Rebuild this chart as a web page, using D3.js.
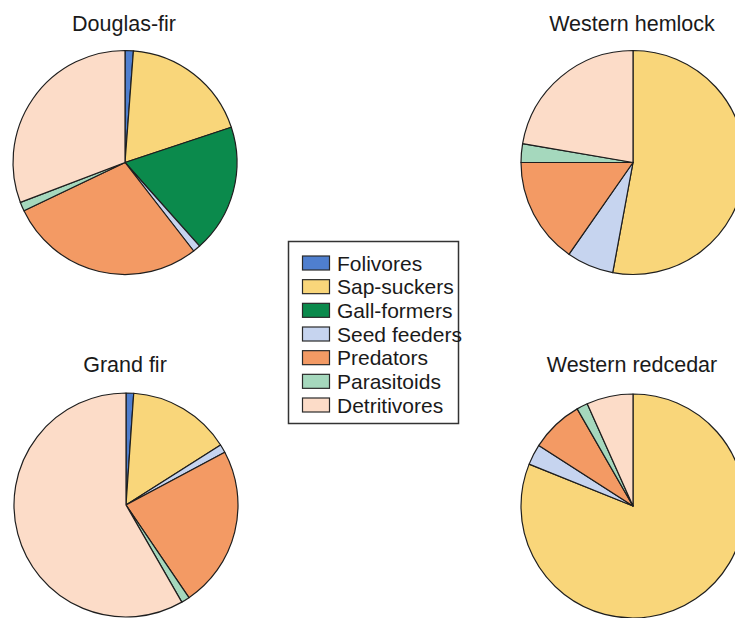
<!DOCTYPE html>
<html>
<head>
<meta charset="utf-8">
<script src="https://cdn.jsdelivr.net/npm/d3@7"></script>
<style>
  html, body { margin: 0; padding: 0; background: #fff; }
  svg { display: block; font-family: "Liberation Sans", Arial, sans-serif; }
</style>
</head>
<body>
<svg id="chart" width="735" height="618"></svg>
<script>
// ---- data (percent of individuals per feeding guild) ----
const categories = ["Folivores", "Sap-suckers", "Gall-formers", "Seed feeders", "Predators", "Parasitoids", "Detritivores"];
const colors = ["#4f7fcf", "#f9d67a", "#0b8a4c", "#c6d4ef", "#f39a64", "#a5d8bd", "#fcdcc8"];
const trees = ["Douglas-fir", "Western hemlock", "Grand fir", "Western redcedar"];
const douglasFir      = [1.2, 18.7, 18.5, 1.1, 28.4, 1.3, 30.8];
const westernHemlock  = [0, 52.9, 0, 6.8, 15.3, 2.7, 22.3];
const grandFir        = [1.1, 14.9, 0, 1.2, 23.3, 1.2, 58.3];
const westernRedcedar = [0, 81.1, 0, 3.0, 7.6, 1.6, 6.7];
const treeValues = [douglasFir, westernHemlock, grandFir, westernRedcedar];

// ---- layout ----
const svg = d3.select("#chart");
const R = 112;
const centers = [[125, 162.5], [633, 162.5], [126, 505], [633, 506]];
const titleY = [31, 31, 372, 372];

const color = d3.scaleOrdinal().domain(categories).range(colors);
const pie = d3.pie().sort(null).value(d => d.value);
const arc = d3.arc().innerRadius(0).outerRadius(R);

trees.forEach((name, i) => {
  const [cx, cy] = centers[i];
  const data = categories.map((c, j) => ({ cat: c, value: treeValues[i][j] }));
  const g = svg.append("g").attr("transform", `translate(${cx},${cy})`);
  g.selectAll("path")
    .data(pie(data).filter(d => d.data.value > 0))
    .join("path")
    .attr("d", arc)
    .attr("fill", d => color(d.data.cat))
    .attr("stroke", "#1e1e1e")
    .attr("stroke-width", 1.2)
    .attr("stroke-linejoin", "round");
  svg.append("text")
    .attr("x", cx - 1)
    .attr("y", titleY[i])
    .attr("text-anchor", "middle")
    .attr("font-size", 21.5)
    .attr("fill", "#1a1a1a")
    .text(name);
});

// ---- legend ----
const lg = svg.append("g");
lg.append("rect")
  .attr("x", 288.5).attr("y", 241.5)
  .attr("width", 170).attr("height", 182)
  .attr("fill", "#fff")
  .attr("stroke", "#333").attr("stroke-width", 1.5);
const rowY = d3.scalePoint().domain(categories).range([263, 405]);
const items = lg.selectAll("g.item").data(categories).join("g")
  .attr("class", "item")
  .attr("transform", c => `translate(302,${rowY(c)})`);
items.append("rect")
  .attr("x", 0.5).attr("y", -7)
  .attr("width", 27).attr("height", 14)
  .attr("fill", c => color(c))
  .attr("stroke", "#2a2a2a").attr("stroke-width", 1.2);
items.append("text")
  .attr("x", 35).attr("y", 7.5)
  .attr("font-size", 21)
  .attr("fill", "#1a1a1a")
  .text(c => c);
</script>
</body>
</html>
